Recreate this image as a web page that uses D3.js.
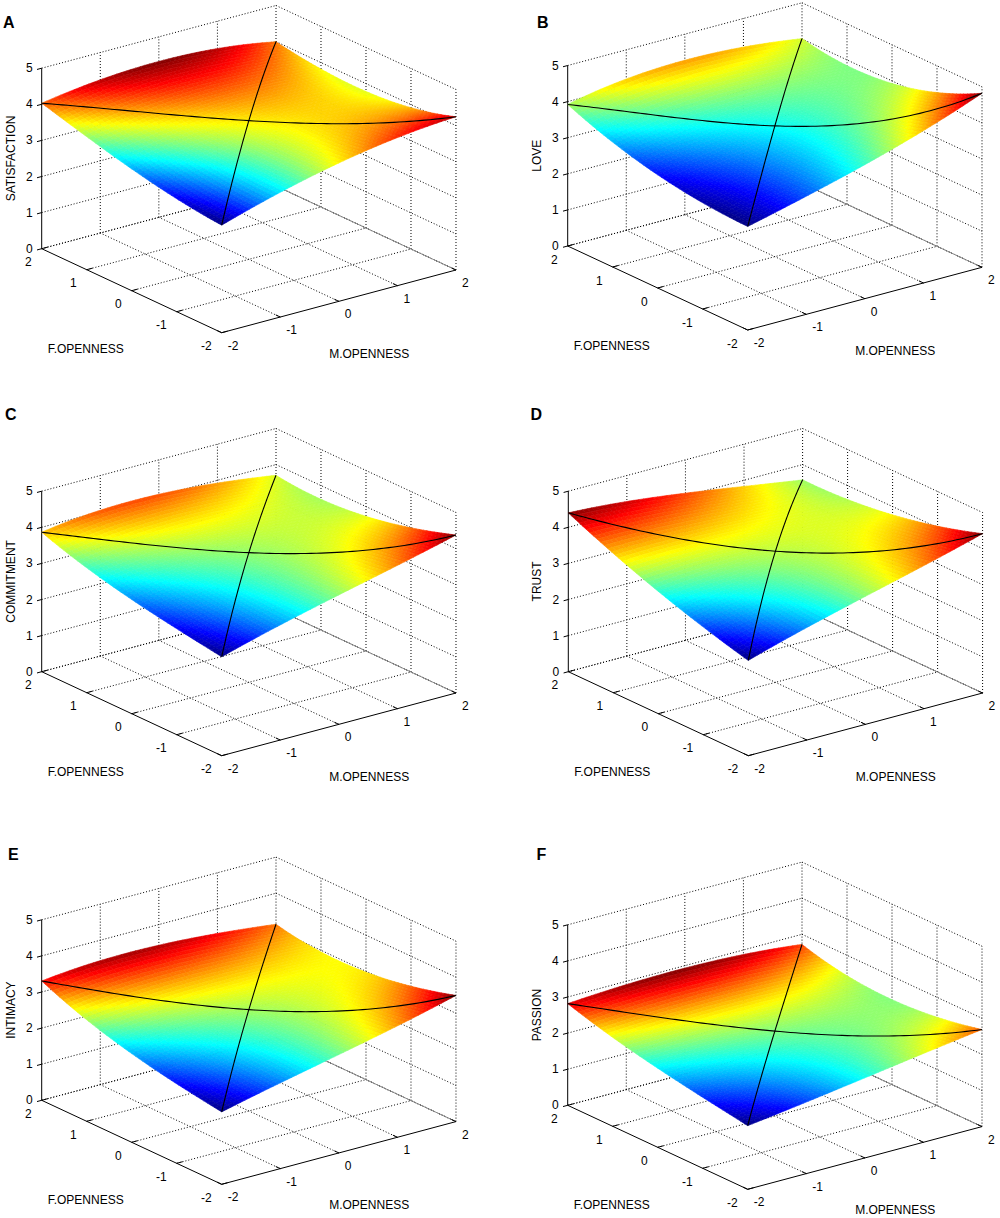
<!doctype html>
<html>
<head>
<meta charset="utf-8">
<script src="https://cdnjs.cloudflare.com/ajax/libs/d3/7.8.5/d3.min.js"></script>
<style>
body { margin: 0; background: #fff; }
text { font-family: "Liberation Sans", Arial, sans-serif; fill: #000; }
.tick { font-size: 12px; }
.title { font-size: 12px; }
.letter { font-size: 16px; font-weight: bold; }
.grid { stroke: #000; stroke-width: 1; stroke-dasharray: 1,2; fill: none; }
.axis { stroke: #000; stroke-width: 1; fill: none; }
.edge { stroke: #8a8a8a; stroke-width: 1; fill: none; }
.ridge { stroke: #000; stroke-width: 1.1; fill: none; }
</style>
</head>
<body>
<svg width="1000" height="1218"></svg>
<script>
const letters = ["A", "B", "C", "D", "E", "F"];
const outcomes = ["SATISFACTION", "LOVE", "COMMITMENT", "TRUST", "INTIMACY", "PASSION"];
const openTicks = [-2, -1, 0, 1, 2];
const zTicks = [0, 1, 2, 3, 4, 5];

// heights
// rows: F.OPENNESS = 2, 1, 0, -1, -2   columns: M.OPENNESS = -2, -1, 0, 1, 2
const satisfaction = [
  [4.01, 4.29, 4.37, 4.34, 3.97],
  [3.72, 3.92, 4.00, 3.89, 3.93],
  [3.45, 3.65, 3.84, 3.87, 3.82],
  [3.20, 3.38, 3.77, 3.92, 3.94],
  [2.96, 3.52, 3.94, 4.08, 4.23]];
const love = [
  [3.86, 4.40, 4.42, 4.25, 3.97],
  [3.57, 3.66, 3.84, 3.81, 3.95],
  [3.32, 3.40, 3.53, 3.82, 4.07],
  [3.07, 3.14, 3.60, 3.89, 4.35],
  [2.82, 3.40, 3.86, 4.33, 4.77]];
const commitment = [
  [3.83, 4.12, 4.15, 4.00, 3.68],
  [3.52, 3.63, 3.72, 3.58, 3.69],
  [3.30, 3.40, 3.59, 3.69, 3.84],
  [3.02, 3.12, 3.54, 3.75, 4.05],
  [2.71, 3.31, 3.70, 4.00, 4.35]];
const trust = [
  [4.39, 4.27, 4.12, 3.89, 3.57],
  [3.86, 3.91, 3.80, 3.58, 3.65],
  [3.43, 3.55, 3.65, 3.70, 3.81],
  [3.04, 3.15, 3.55, 3.80, 4.07],
  [2.63, 3.19, 3.58, 3.98, 4.40]];
const intimacy = [
  [3.25, 3.58, 3.58, 3.38, 3.11],
  [2.94, 2.94, 3.00, 2.86, 3.05],
  [2.60, 2.65, 2.76, 2.92, 3.12],
  [2.31, 2.31, 2.72, 2.94, 3.24],
  [1.97, 2.50, 2.85, 3.18, 3.45]];
const passion = [
  [2.79, 2.97, 3.00, 2.90, 2.71],
  [2.54, 2.53, 2.58, 2.45, 2.47],
  [2.25, 2.28, 2.33, 2.40, 2.41],
  [2.00, 2.01, 2.25, 2.39, 2.48],
  [1.75, 2.05, 2.27, 2.48, 2.67]];
const surfaces = [satisfaction, love, commitment, trust, intimacy, passion];

// layout: floor corner (M=-2, F=2) of each panel and letter spot
const origins = [[41.7, 248.7], [567.7, 246], [41.7, 671.7], [568.3, 671.7], [41.7, 1100.3], [567.7, 1105.3]];
const letterPos = [[3, 27.5], [537, 27.5], [5, 420], [530.5, 420], [8, 859.7], [536.5, 859.7]];

// oblique 3d view as sums of linear scales
const xM = d3.scaleLinear([-2, 2], [0, 234.3]);
const xF = d3.scaleLinear([-2, 2], [180, 0]);
const yM = d3.scaleLinear([-2, 2], [0, -62.7]);
const yF = d3.scaleLinear([-2, 2], [84, 0]);
const yZ = d3.scaleLinear([0, 5], [0, -180.5]);
const proj = (m, f, z) => [xM(m) + xF(f), yM(m) + yF(f) + yZ(z)];

const jetStops = [0, 0.125, 0.375, 0.625, 0.875, 1];
const jetColors = ["#00007f", "#0000ff", "#00ffff", "#ffff00", "#ff0000", "#7f0000"];

// smooth cubic response surface through the read heights (weighted least squares;
// corners, centre and the two drawn diagonals are the surest readings)
const terms = (m, f) => [1, m, f, m * m, m * f, f * f, m * m * m, m * m * f, m * f * f, f * f * f];
function weight(r, c) {
  const edgeR = r === 0 || r === 4, edgeC = c === 0 || c === 4;
  if ((edgeR && edgeC) || (r === 2 && c === 2)) return 8;
  if (r === c || r + c === 4) return 3;
  if (edgeR || edgeC) return 2;
  return 1;
}
function fitSurface(grid) {
  const k = 10;
  const A = d3.range(k).map(() => new Array(k + 1).fill(0));
  grid.forEach((row, r) => row.forEach((z, c) => {
    const t = terms(c - 2, 2 - r), w = weight(r, c);
    for (let a = 0; a < k; a++) {
      for (let b = 0; b < k; b++) A[a][b] += w * t[a] * t[b];
      A[a][k] += w * t[a] * z;
    }
  }));
  for (let i = 0; i < k; i++) {
    let piv = i;
    for (let j = i + 1; j < k; j++) if (Math.abs(A[j][i]) > Math.abs(A[piv][i])) piv = j;
    [A[i], A[piv]] = [A[piv], A[i]];
    for (let j = 0; j < k; j++) {
      if (j === i) continue;
      const f = A[j][i] / A[i][i];
      for (let c = i; c <= k; c++) A[j][c] -= f * A[i][c];
    }
  }
  const coef = A.map((row, i) => row[k] / row[i]);
  return (m, f) => d3.sum(terms(m, f), (t, i) => t * coef[i]);
}

const svg = d3.select("svg");
const line = d3.line();
const N = 50;

surfaces.forEach((grid, p) => {
  const height = fitSurface(grid);
  const g = svg.append("g").attr("transform", "translate(" + origins[p][0] + "," + origins[p][1] + ")");

  // dotted box grid (back walls and floor)
  const gl = [];
  zTicks.forEach(z => { gl.push([[-2, 2, z], [2, 2, z]]); gl.push([[2, 2, z], [2, -2, z]]); });
  openTicks.slice(1).forEach(m => gl.push([[m, 2, 0], [m, 2, 5]]));
  openTicks.slice(0, 4).forEach(f => gl.push([[2, f, 0], [2, f, 5]]));
  openTicks.slice(1).forEach(m => gl.push([[m, -2, 0], [m, 2, 0]]));
  openTicks.slice(1).forEach(f => gl.push([[-2, f, 0], [2, f, 0]]));
  g.selectAll("path.grid").data(gl).enter().append("path")
    .attr("class", "grid")
    .attr("d", d => line(d.map(q => proj(q[0], q[1], q[2]))));

  g.append("path").attr("class", "edge").attr("d", line([proj(2, 2, 0), proj(2, -2, 0)]));

  // axes
  g.append("path").attr("class", "axis").attr("d", line([proj(-2, 2, 0), proj(-2, 2, 5)]));
  g.append("path").attr("class", "axis").attr("d", line([proj(-2, 2, 0), proj(-2, -2, 0), proj(2, -2, 0)]));
  zTicks.forEach(z => g.append("path").attr("class", "axis")
    .attr("d", line([proj(-2, 2, z), proj(-2.08, 2, z)])));
  openTicks.forEach(f => g.append("path").attr("class", "axis")
    .attr("d", line([proj(-2, f, 0), proj(-1.9, f, 0)])));
  openTicks.forEach(m => g.append("path").attr("class", "axis")
    .attr("d", line([proj(m, -2, 0), proj(m, -1.9, 0)])));

  // surface patches, far to near
  const step = 4 / N;
  const vz = d3.range(N + 1).map(i => d3.range(N + 1).map(j => height(-2 + i * step, -2 + j * step)));
  const zmin = d3.min(vz, r => d3.min(r)), zmax = d3.max(vz, r => d3.max(r));
  const quads = [];
  for (let i = 0; i < N; i++) {
    for (let j = 0; j < N; j++) {
      const m0 = -2 + i * step, f0 = -2 + j * step;
      const c = [[i, j], [i + 1, j], [i + 1, j + 1], [i, j + 1]]
        .map(q => [-2 + q[0] * step, -2 + q[1] * step, vz[q[0]][q[1]]]);
      quads.push({ c: c, z: d3.mean(c, q => q[2]), depth: 0.609 * m0 + 0.793 * f0 });
    }
  }
  quads.sort((a, b) => b.depth - a.depth);
  const jet = d3.scaleLinear()
    .domain(jetStops.map(t => zmin + t * (zmax - zmin)))
    .range(jetColors)
    .clamp(true);
  g.append("g").selectAll("path").data(quads).enter().append("path")
    .attr("d", d => line(d.c.map(q => proj(q[0], q[1], q[2]))) + "Z")
    .attr("fill", d => jet(d.z))
    .attr("stroke", d => jet(d.z))
    .attr("stroke-width", 0.6);

  // congruence and incongruence lines
  const ts = d3.range(0, 81).map(k => -2 + k * 0.05);
  g.append("path").attr("class", "ridge")
    .attr("d", line(ts.map(t => proj(t, t, height(t, t)))));
  g.append("path").attr("class", "ridge")
    .attr("d", line(ts.map(t => proj(t, -t, height(t, -t)))));

  // tick labels
  zTicks.forEach(z => {
    const pt = proj(-2, 2, z);
    g.append("text").attr("class", "tick").attr("text-anchor", "end")
      .attr("x", pt[0] - 9).attr("y", pt[1] + 4).text(z);
  });
  openTicks.forEach(f => {
    const pt = proj(-2, f, 0);
    g.append("text").attr("class", "tick").attr("text-anchor", "end")
      .attr("x", pt[0] - 10).attr("y", pt[1] + 17.5).text(f);
  });
  openTicks.forEach(m => {
    const pt = proj(m, -2, 0);
    g.append("text").attr("class", "tick").attr("text-anchor", "start")
      .attr("x", pt[0] + 6).attr("y", pt[1] + 17).text(m);
  });

  // axis titles
  const zm = proj(-2, 2, 2.5);
  g.append("text").attr("class", "title").attr("text-anchor", "middle")
    .attr("transform", "translate(" + (zm[0] - 27) + "," + zm[1] + ") rotate(-90)")
    .text(outcomes[p]);
  g.append("text").attr("class", "title").attr("text-anchor", "middle")
    .attr("x", 44).attr("y", 104).text("F.OPENNESS");
  g.append("text").attr("class", "title").attr("text-anchor", "middle")
    .attr("x", 327.5).attr("y", 109).text("M.OPENNESS");

  svg.append("text").attr("class", "letter")
    .attr("x", letterPos[p][0]).attr("y", letterPos[p][1]).text(letters[p]);
});
</script>
</body>
</html>
